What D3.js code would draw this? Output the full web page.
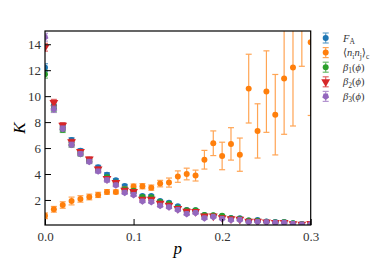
<!DOCTYPE html>
<html><head><meta charset="utf-8">
<script src="https://cdn.jsdelivr.net/npm/d3@7"></script>
<style>body{margin:0;background:#fff}svg{display:block}text{font-family:"Liberation Serif","DejaVu Serif",serif}</style>
</head><body><div id="c"></div>
<script>
const pVals = [0.00,0.01,0.02,0.03,0.04,0.05,0.06,0.07,0.08,0.09,0.10,0.11,0.12,0.13,0.14,0.15,0.16,0.17,0.18,0.19,0.20,0.21,0.22,0.23,0.24,0.25,0.26,0.27,0.28,0.29,0.30];
const FA = [12.2,9.3,7.7,6.62,5.8,5.1,4.52,3.95,3.52,3.08,2.6,2.31,2.31,1.92,1.79,1.51,1.23,1.2,0.84,0.8,0.76,0.62,0.6,0.41,0.45,0.35,0.3,0.3,0.2,0.15,0.12];
const NN = [0.78,1.28,1.61,1.92,2.08,2.23,2.39,2.62,2.62,2.8,3.03,3.06,2.95,3.26,3.34,3.8,4.0,3.88,5.1,6.37,5.39,6.32,5.49,10.58,7.32,10.35,8.57,11.36,12.2,16.8,14.15];
const NNerr = [0.22,0.22,0.25,0.3,0.25,0.22,0.2,0.18,0.15,0.2,0.2,0.2,0.2,0.25,0.35,0.44,0.45,0.42,0.72,0.95,1.06,1.25,1.28,2.65,2.09,3.14,3.1,4.3,4.5,4.5,5.64];
const B1 = [11.69,9.05,7.4,6.26,5.55,4.98,4.3,3.75,3.35,2.82,2.72,2.22,2.2,1.85,1.7,1.4,1.2,1.2,0.85,0.82,0.78,0.6,0.55,0.42,0.4,0.33,0.28,0.3,0.2,0.15,0.12];
const B2 = [13.77,9.5,7.76,6.49,5.72,5.16,4.39,3.64,3.34,2.75,2.64,2.05,2.05,1.75,1.59,1.33,1.13,1.1,0.75,0.75,0.62,0.55,0.5,0.35,0.35,0.3,0.25,0.25,0.17,0.13,0.18];
const B3 = [14.54,8.99,7.5,6.26,5.55,4.95,4.21,3.52,3.14,2.56,2.39,1.9,1.85,1.56,1.44,1.23,0.92,1.0,0.6,0.7,0.55,0.45,0.46,0.3,0.32,0.3,0.25,0.25,0.15,0.12,0.12];
const smallErr = [0.3,0.25,0.2,0.18,0.15,0.15,0.15,0.15,0.12,0.12,0.12,0.1,0.1,0.1,0.1,0.1,0.08,0.08,0.08,0.08,0.06,0.06,0.06,0.05,0.05,0.05,0.05,0.05,0.04,0.04,0.04];
const xTicks = [0.0,0.1,0.2,0.3];
const yTicks = [2,4,6,8,10,12,14];
const colors = {FA:"#1f77b4",NN:"#ff7f0e",B1:"#2ca02c",B2:"#d62728",B3:"#9467bd"};

const W=374,H=260, L=45, R=310.7, T=31, B=225;
const svg=d3.select("#c").append("svg").attr("width",W).attr("height",H);
const x=d3.scaleLinear().domain([0,0.3]).range([L,R]);
const y=d3.scaleLinear().domain([0.07,15.02]).range([B,T]);

svg.append("clipPath").attr("id","clip").append("rect").attr("x",L).attr("y",T).attr("width",R-L).attr("height",B-T);
const plot=svg.append("g").attr("clip-path","url(#clip)");

const pentagon = {draw(ctx,size){const r=Math.sqrt(size/2.378);for(let k=0;k<5;k++){const a=-Math.PI/2+k*2*Math.PI/5;const px=r*Math.cos(a),py=r*Math.sin(a);k?ctx.lineTo(px,py):ctx.moveTo(px,py);}ctx.closePath();}};
const sym = {
  circle: d3.symbol().type(d3.symbolCircle).size(28),
  tri: d3.symbol().type(d3.symbolTriangle).size(34),
  pent: d3.symbol().type(pentagon).size(30)
};
const series=[
  {key:"FA",vals:FA,err:smallErr,shape:"circle",rot:0},
  {key:"NN",vals:NN,err:NNerr,shape:"circle",rot:0},
  {key:"B1",vals:B1,err:smallErr,shape:"circle",rot:0},
  {key:"B2",vals:B2,err:smallErr,shape:"tri",rot:180},
  {key:"B3",vals:B3,err:smallErr,shape:"pent",rot:180}
];
series.forEach(s=>{
  const g=plot.append("g");
  const c=colors[s.key];
  const data=pVals.map((p,i)=>({p,v:s.vals[i],e:s.err[i]}));
  const eg=g.append("g").attr("stroke",c).attr("stroke-width",1.2).attr("opacity",0.7);
  data.forEach(d=>{
    eg.append("line").attr("x1",x(d.p)).attr("x2",x(d.p)).attr("y1",y(d.v-d.e)).attr("y2",y(d.v+d.e));
    [d.v-d.e,d.v+d.e].forEach(v=>eg.append("line").attr("x1",x(d.p)-3).attr("x2",x(d.p)+3).attr("y1",y(v)).attr("y2",y(v)));
  });
  g.selectAll("path").data(data).join("path").attr("d",sym[s.shape]())
   .attr("transform",d=>`translate(${x(d.p)},${y(d.v)}) rotate(${s.rot})`).attr("fill",c);
});

// axes
const xa=svg.append("g").attr("transform",`translate(0,${B})`).call(d3.axisBottom(x).tickValues(xTicks).tickFormat(d3.format(".1f")).tickSizeInner(-6).tickSizeOuter(0).tickPadding(6));
const ya=svg.append("g").attr("transform",`translate(${L},0)`).call(d3.axisLeft(y).tickValues(yTicks).tickSizeInner(-6).tickSizeOuter(0).tickPadding(4));
[xa,ya].forEach(a=>{a.select(".domain").remove();a.selectAll("line").attr("stroke","#000").attr("stroke-width",1);
  a.selectAll("text").attr("font-size",13).attr("fill","#333").attr("font-family","Liberation Serif");});
xa.selectAll("text").attr("dy","0.75em");
svg.append("rect").attr("x",L).attr("y",T).attr("width",R-L).attr("height",B-T).attr("fill","none").attr("stroke","#000").attr("stroke-width",1.2);

svg.append("text").attr("x",(L+R)/2).attr("y",254).attr("text-anchor","middle").attr("font-size",17).attr("font-style","italic").text("p");
svg.append("text").attr("transform",`translate(25,${(T+B)/2}) rotate(-90)`).attr("text-anchor","middle").attr("font-size",17).attr("font-style","italic").text("K");

// legend
const leg=[
  {key:"FA",shape:"circle",rot:0,lab:[["F","i"],["A","sub"]]},
  {key:"NN",shape:"circle",rot:0,lab:[["⟨","n"],["n","i"],["i","sub"],["n","i2"],["j","sub"],["⟩","n2"],["c","sub"]]},
  {key:"B1",shape:"circle",rot:0,lab:[["β","i"],["1","sub"],["(","n2"],["ϕ","i"],[")","n"]]},
  {key:"B2",shape:"tri",rot:180,lab:[["β","i"],["2","sub"],["(","n2"],["ϕ","i"],[")","n"]]},
  {key:"B3",shape:"pent",rot:180,lab:[["β","i"],["3","sub"],["(","n2"],["ϕ","i"],[")","n"]]}
];
const lx=325.7, ly0=38, ldy=14.6;
leg.forEach((it,i)=>{
  const yy=ly0+i*ldy, c=colors[it.key];
  const g=svg.append("g");
  const eg=g.append("g").attr("stroke",c).attr("stroke-width",1.2).attr("opacity",0.7);
  eg.append("line").attr("x1",lx).attr("x2",lx).attr("y1",yy-5).attr("y2",yy+5);
  eg.append("line").attr("x1",lx-3).attr("x2",lx+3).attr("y1",yy-5).attr("y2",yy-5);
  eg.append("line").attr("x1",lx-3).attr("x2",lx+3).attr("y1",yy+5).attr("y2",yy+5);
  g.append("path").attr("d",sym[it.shape]()).attr("transform",`translate(${lx},${yy}) rotate(${it.rot})`).attr("fill",c);
  const t=svg.append("text").attr("x",343).attr("y",yy+3.5).attr("font-size",10.5).attr("fill","#333");
  let sub=false;
  it.lab.forEach(([s,k])=>{
    const ts=t.append("tspan").text(s);
    if(k==="sub"){ts.attr("font-size",7.5).attr("dy",2.5);sub=true;}
    else{ if(sub){ts.attr("dy",-2.5);sub=false;} if(k==="i"||k==="i2")ts.attr("font-style","italic"); }
  });
});
</script></body></html>
